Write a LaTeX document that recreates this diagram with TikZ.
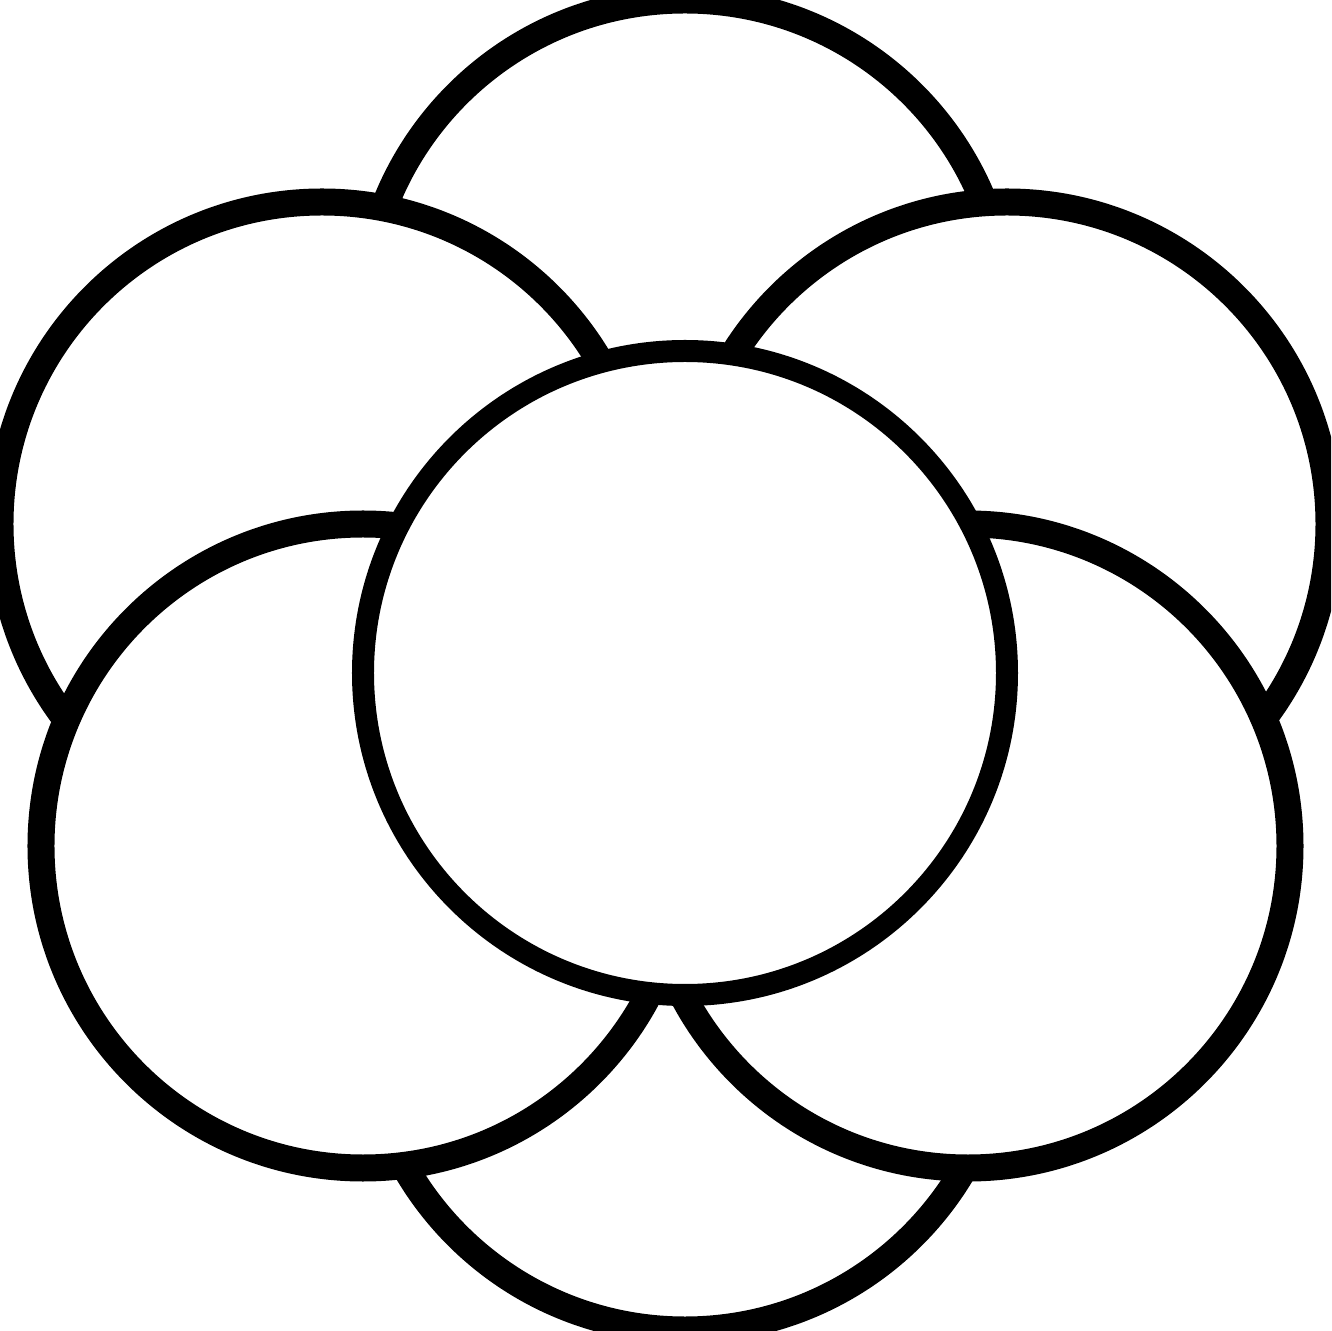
\documentclass[tikz,border=0pt]{standalone}
\usepackage[dvipsnames]{xcolor}
\usepackage{tikz}

\begin{document}
\begin{tikzpicture}[petal/.style={fill=white, draw=black, line width=0.27cm},
                    heart/.style={fill=white, draw=black, line width=0.22cm}]
\clip (-6.85,-6.58) rectangle (6.46,6.73);
\fill[white] (-6.85,-6.58) rectangle (6.46,6.73);

% outer ring, back to front
\filldraw[petal] ( 0.00, 3.51) circle (3.22);
\filldraw[petal] ( 0.00,-3.35) circle (3.22);
\filldraw[petal] (-3.63, 1.49) circle (3.22);
\filldraw[petal] ( 3.22, 1.49) circle (3.22);
\filldraw[petal] (-3.22,-1.73) circle (3.22);
\filldraw[petal] ( 2.83,-1.73) circle (3.22);

% middle one on top
\filldraw[heart] (0,0) circle (3.22);

\end{tikzpicture}
\end{document}
